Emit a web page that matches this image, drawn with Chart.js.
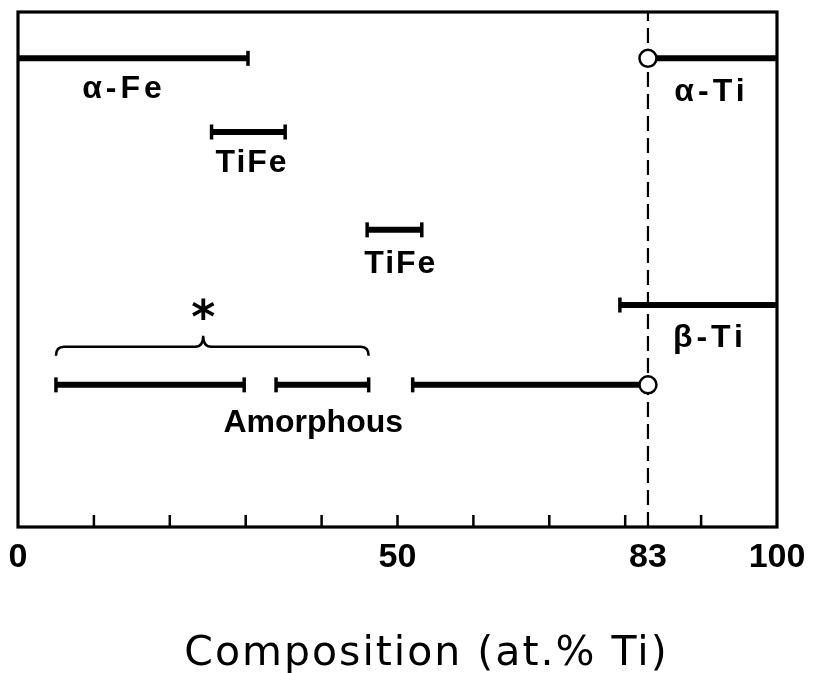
<!DOCTYPE html>
<html>
<head>
<meta charset="utf-8">
<script src="https://cdn.jsdelivr.net/npm/chart.js@4"></script>
<style>
  html, body { margin: 0; padding: 0; background: #fff; }
  canvas { display: block; }
</style>
</head>
<body>
<canvas id="c" width="814" height="673"></canvas>
<script>
// Composition ranges (at.% Ti) over which each phase is found
const phaseNames = ['α-Fe', 'α-Ti', 'TiFe', 'TiFe', 'β-Ti', 'Amorphous', 'Amorphous', 'Amorphous'];
const rangeStart = [0, 83, 25.5, 46, 79.3, 5, 34, 52];
const rangeEnd   = [30.3, 100, 35.2, 53.2, 100, 29.8, 46.2, 83];
const rowLevel   = [91, 91, 76.7, 57.7, 43.1, 27.6, 27.6, 27.6];

// Phase labels: text, centre composition, row level
const labelText  = ['α-Fe', 'TiFe', 'TiFe', 'α-Ti', 'β-Ti', 'Amorphous'];
const labelX     = [13.7, 30.7, 50.3, 91.1, 90.9, 38.9];
const labelLevel = [85.4, 71.1, 51.5, 84.9, 37.1, 20.6];

// Brace grouping the first two amorphous ranges, marked with an asterisk
const braceFrom = 5, braceTo = 46.2, braceTip = 24.4, braceLevel = 35;
const braceMark = '*', braceMarkLevel = 42.3;

// Axis
const boundary = 83;
const tickValues = [0, 10, 20, 30, 40, 50, 60, 70, 80, 90, 100];
const labeledTicks = [0, 50, 83, 100];
const axisTitle = 'Composition (at.% Ti)';

const FONT = 'Liberation Sans';

// End marker: none at the axis limits, open circle at the boundary, bar cap elsewhere
function markerFor(v) {
  if (v === 0 || v === 100) return false;
  if (v === boundary) return 'circle';
  return 'line';
}

const datasets = phaseNames.map((name, i) => {
  const ends = [rangeStart[i], rangeEnd[i]];
  const styles = ends.map(markerFor);
  return {
    label: name,
    data: ends.map(x => ({ x, y: rowLevel[i] })),
    showLine: true,
    borderColor: '#000',
    borderWidth: 6,
    borderCapStyle: 'butt',
    pointStyle: styles,
    pointRadius: styles.map(s => s === false ? 0 : s === 'circle' ? 8.5 : 7.5),
    pointRotation: styles.map(s => s === 'line' ? 90 : 0),
    pointBorderWidth: styles.map(s => s === 'circle' ? 2.5 : 3.5),
    pointBackgroundColor: '#fff',
    pointBorderColor: '#000',
    clip: false
  };
});

datasets.push({
  label: 'boundary',
  data: [{ x: boundary, y: 0 }, { x: boundary, y: 100 }],
  showLine: true,
  borderColor: '#000',
  borderWidth: 2.2,
  borderDash: [15, 7],
  pointRadius: 0
});

const decorations = {
  id: 'decorations',
  afterDatasetsDraw(chart) {
    const { ctx, scales: { x, y } } = chart;
    ctx.save();
    ctx.fillStyle = '#000';
    ctx.strokeStyle = '#000';

    // phase labels (short names are set a little wider, as lettered)
    ctx.font = `bold 32px "${FONT}"`;
    ctx.textAlign = 'center';
    ctx.textBaseline = 'alphabetic';
    const capH = ctx.measureText('H').actualBoundingBoxAscent;
    labelText.forEach((t, i) => {
      const sp = t.includes('-') ? 4 : (t.length <= 4 ? 2 : 0);
      ctx.letterSpacing = sp + 'px';
      ctx.fillText(t, x.getPixelForValue(labelX[i]) + sp / 2, y.getPixelForValue(labelLevel[i]) + capH / 2);
    });
    ctx.letterSpacing = '0px';

    // brace
    const x0 = x.getPixelForValue(braceFrom);
    const x1 = x.getPixelForValue(braceTo);
    const xt = x.getPixelForValue(braceTip);
    const yb = y.getPixelForValue(braceLevel);
    const drop = 9, rise = 11, r = 8;
    ctx.lineWidth = 2.5;
    ctx.beginPath();
    ctx.moveTo(x0, yb + drop);
    ctx.quadraticCurveTo(x0, yb, x0 + r, yb);
    ctx.lineTo(xt - r, yb);
    ctx.quadraticCurveTo(xt, yb, xt, yb - rise);
    ctx.quadraticCurveTo(xt, yb, xt + r, yb);
    ctx.lineTo(x1 - r, yb);
    ctx.quadraticCurveTo(x1, yb, x1, yb + drop);
    ctx.stroke();

    // asterisk above the brace
    ctx.font = `bold 46px "DejaVu Sans"`;
    const m = ctx.measureText(braceMark);
    const ym = y.getPixelForValue(braceMarkLevel);
    ctx.fillText(braceMark, xt, ym + (m.actualBoundingBoxAscent - m.actualBoundingBoxDescent) / 2);
    ctx.restore();
  },
  afterDraw(chart) {
    const { ctx, chartArea: a, scales: { x } } = chart;
    ctx.save();
    ctx.strokeStyle = '#000';
    ctx.fillStyle = '#000';
    // inward tick marks
    ctx.lineWidth = 2.5;
    ctx.beginPath();
    x.ticks.forEach(t => {
      if (t.value === 0 || t.value === 100 || t.value === boundary) return;
      const px = x.getPixelForValue(t.value);
      ctx.moveTo(px, a.bottom);
      ctx.lineTo(px, a.bottom - 12);
    });
    ctx.stroke();
    // frame
    ctx.lineWidth = 3.2;
    ctx.strokeRect(a.left, a.top, a.right - a.left, a.bottom - a.top);

    // axis title
    ctx.font = `41px "DejaVu Sans"`;
    ctx.letterSpacing = '2px';
    ctx.textAlign = 'center';
    ctx.textBaseline = 'alphabetic';
    ctx.fillText(axisTitle, (a.left + a.right) / 2 + 29, 665);
    ctx.restore();
  }
};

new Chart(document.getElementById('c'), {
  type: 'scatter',
  data: { datasets },
  options: {
    responsive: false,
    animation: false,
    devicePixelRatio: 1,
    layout: { padding: { left: 18, right: 37, top: 12, bottom: 0 } },
    plugins: { legend: { display: false }, tooltip: { enabled: false } },
    scales: {
      x: {
        type: 'linear',
        min: 0,
        max: 100,
        afterBuildTicks: s => {
          s.ticks = [...tickValues, boundary].sort((a, b) => a - b).map(v => ({ value: v }));
        },
        afterFit: s => {
          s.height = 146;
          s.paddingLeft = 0;
          s.paddingRight = 0;
        },
        ticks: {
          autoSkip: false,
          maxRotation: 0,
          padding: 10,
          color: '#000',
          font: { family: FONT, weight: 'bold', size: 34 },
          callback: v => labeledTicks.includes(v) ? String(v) : ''
        },
        grid: { display: false, drawTicks: false },
        border: { display: false },
        title: { display: false, text: axisTitle }
      },
      y: { display: false, min: 0, max: 100 }
    }
  },
  plugins: [decorations]
});
</script>
</body>
</html>
